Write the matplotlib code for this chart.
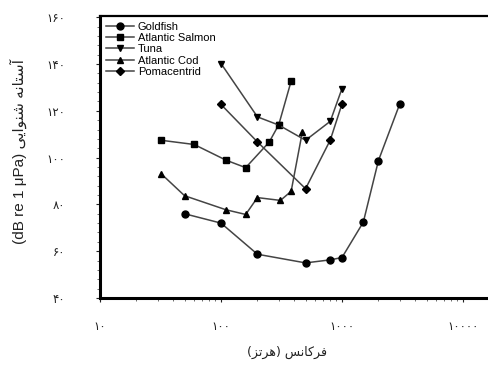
import numpy as np
import matplotlib
matplotlib.use("Agg")
import matplotlib.pyplot as plt
from matplotlib.ticker import FixedLocator, MultipleLocator, FuncFormatter, LogLocator, NullFormatter

# hearing thresholds, frequency in Hz and level in dB re 1 uPa
goldfish_hz = [50, 100, 200, 500, 800, 1000, 1500, 2000, 3000]
goldfish_db = [76, 72, 58.7, 55, 56.3, 57.3, 72.4, 98.7, 122.9]

salmon_hz = [32, 60, 110, 160, 250, 300, 380]
salmon_db = [107.4, 105.6, 98.9, 95.7, 106.6, 114, 132.7]

tuna_hz = [100, 200, 300, 500, 800, 1000]
tuna_db = [140.2, 117.4, 113.9, 107.4, 115.5, 129.5]

cod_hz = [32, 50, 110, 160, 200, 310, 380, 470]
cod_db = [93.1, 83.7, 77.7, 75.7, 82.9, 81.7, 85.6, 110.9]

poma_hz = [100, 200, 500, 800, 1000]
poma_db = [122.7, 106.7, 86.7, 107.5, 122.9]

series_names = ["Goldfish", "Atlantic Salmon", "Tuna", "Atlantic Cod", "Pomacentrid"]
x_ticks = [10, 100, 1000, 10000]
y_ticks = [40, 60, 80, 100, 120, 140, 160]

x_title = "فرکانس (هرتز)"
y_title_fa = "آستانه شنوایی"
y_title_en = "(dB re 1 μPa)"


# matplotlib does no arabic shaping, so pick presentation forms by hand
# (isolated, final, initial, medial)
FORMS = {
    "ا": ("\uFE8D", "\uFE8E", None, None),
    "آ": ("\uFE81", "\uFE82", None, None),
    "ر": ("\uFEAD", "\uFEAE", None, None),
    "ز": ("\uFEAF", "\uFEB0", None, None),
    "و": ("\uFEED", "\uFEEE", None, None),
    "ف": ("\uFED1", "\uFED2", "\uFED3", "\uFED4"),
    "ک": ("\uFB8E", "\uFB8F", "\uFB90", "\uFB91"),
    "ن": ("\uFEE5", "\uFEE6", "\uFEE7", "\uFEE8"),
    "س": ("\uFEB1", "\uFEB2", "\uFEB3", "\uFEB4"),
    "ه": ("\uFEE9", "\uFEEA", "\uFEEB", "\uFEEC"),
    "ت": ("\uFE95", "\uFE96", "\uFE97", "\uFE98"),
    "ش": ("\uFEB5", "\uFEB6", "\uFEB7", "\uFEB8"),
    "ی": ("\uFBFC", "\uFBFD", "\uFBFE", "\uFBFF"),
}


def dual(c):
    return c in FORMS and FORMS[c][2] is not None


def shape_fa(text):
    out = []
    for i, c in enumerate(text):
        if c not in FORMS:
            out.append(c)
            continue
        prev = text[i - 1] if i > 0 else ""
        nxt = text[i + 1] if i + 1 < len(text) else ""
        join_prev = dual(prev)
        join_next = dual(c) and nxt in FORMS
        iso, fin, ini, med = FORMS[c]
        if join_prev and join_next:
            out.append(med)
        elif join_prev:
            out.append(fin)
        elif join_next:
            out.append(ini)
        else:
            out.append(iso)
    swap = {"(": ")", ")": "("}
    return "".join(swap.get(c, c) for c in reversed(out))


def fa_digits(v, pos=None):
    return str(int(round(v))).translate(str.maketrans("0123456789", "۰۱۲۳۴۵۶۷۸۹"))


fig = plt.figure(figsize=(4.88, 3.71), dpi=100)
ax = fig.add_axes([100 / 488, 73 / 371, 388 / 488, 282 / 371])

styles = [
    (goldfish_hz, goldfish_db, "o", 5),
    (salmon_hz, salmon_db, "s", 4.8),
    (tuna_hz, tuna_db, "v", 5),
    (cod_hz, cod_db, "^", 5),
    (poma_hz, poma_db, "D", 4),
]
for (hz, db, mk, ms), name in zip(styles, series_names):
    ax.plot(hz, db, color="#444444", lw=1.1, marker=mk, ms=ms,
            mfc="black", mec="black", label=name)

ax.set_xscale("log")
ax.set_xlim(10, 10 ** (1 + 388 / 121))
ax.set_ylim(40, 160.5)

ax.xaxis.set_major_locator(FixedLocator(x_ticks))
ax.xaxis.set_major_formatter(FuncFormatter(fa_digits))
ax.xaxis.set_minor_locator(LogLocator(base=10, subs=np.arange(2, 10)))
ax.xaxis.set_minor_formatter(NullFormatter())
ax.yaxis.set_major_locator(FixedLocator(y_ticks))
ax.yaxis.set_major_formatter(FuncFormatter(fa_digits))
ax.yaxis.set_minor_locator(MultipleLocator(4))

ax.tick_params(axis="both", which="major", length=3, width=0.8, labelsize=8.5,
               colors="#222222")
ax.tick_params(axis="both", which="minor", length=2, width=0.6, colors="#555555")
ax.tick_params(axis="y", which="major", pad=22)
ax.tick_params(axis="x", which="major", pad=13)
for lbl in ax.get_xticklabels() + ax.get_yticklabels():
    lbl.set_family("DejaVu Sans")

ax.spines["right"].set_visible(False)
for side in ("left", "bottom"):
    ax.spines[side].set_linewidth(2.2)
ax.spines["top"].set_linewidth(1.6)

leg = ax.legend(loc="upper left", frameon=False,
                prop={"family": "Liberation Sans", "size": 8},
                handlelength=2.6, handletextpad=0.3, labelspacing=0.12,
                borderaxespad=0.3, borderpad=0.2)

fig.text(287 / 488, 1 - 352 / 371, shape_fa(x_title), ha="center", va="center",
         fontsize=9, family=["DejaVu Sans"], color="#222222")
fig.text(18 / 488, 1 - 152 / 371, y_title_en + " " + shape_fa(y_title_fa),
         rotation=90, ha="center", va="center", fontsize=11,
         family=["Liberation Sans", "DejaVu Sans"], color="#222222")

fig.savefig("out.png", dpi=100)
